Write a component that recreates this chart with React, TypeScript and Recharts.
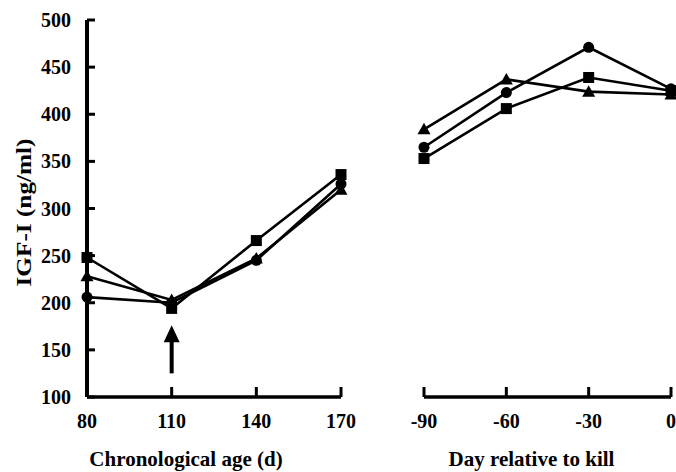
import React from 'react';
import { LineChart, Line, XAxis, YAxis, ReferenceDot } from 'recharts';

// chronological age panel
const ageDays = [80, 110, 140, 170];
const ageCircle = [206, 200, 245, 326];
const ageSquare = [248, 194, 266, 336];
const ageTriangle = [228, 203, 247, 320];

// days relative to kill panel
const killDays = [-90, -60, -30, 0];
const killCircle = [365, 423, 471, 427];
const killSquare = [353, 406, 439, 425];
const killTriangle = [384, 437, 424, 421];

const yTicks = [100, 150, 200, 250, 300, 350, 400, 450, 500];
const ageTicks = [80, 110, 140, 170];
const killTicks = [-90, -60, -30, 0];

// arrow under day 110 (tip value)
const arrowDay = 110;
const arrowTip = 176;

const FONT = '"Liberation Serif", "Times New Roman", serif';
const INK = '#000';

const ageData = ageDays.map((d, i) => ({ d, circle: ageCircle[i], square: ageSquare[i], triangle: ageTriangle[i] }));
const killData = killDays.map((d, i) => ({ d, circle: killCircle[i], square: killSquare[i], triangle: killTriangle[i] }));

const tickStyle = { fill: INK, fontSize: 20, fontWeight: 700, fontFamily: FONT };

function circleDot(p: any) {
    return <circle key={p.key} cx={p.cx} cy={p.cy} r={5.5} fill={INK} />;
}
function squareDot(p: any) {
    return <rect key={p.key} x={p.cx - 5.5} y={p.cy - 5.5} width={11} height={11} fill={INK} />;
}
function triangleDot(p: any) {
    return <path key={p.key} d={`M${p.cx},${p.cy - 6.5}L${p.cx + 6.5},${p.cy + 5}L${p.cx - 6.5},${p.cy + 5}Z`} fill={INK} />;
}

function Arrow(p: any) {
    const { cx, cy } = p;
    return (
        <g>
            <path d={`M${cx},${cy}L${cx + 8},${cy + 17}L${cx - 8},${cy + 17}Z`} fill={INK} />
            <rect x={cx - 2} y={cy + 15} width={4} height={33} fill={INK} />
        </g>
    );
}

function XTitle({ viewBox, value, shift }: any) {
    const cx = viewBox.x + viewBox.width / 2 + shift;
    return (
        <text x={cx} y={466} textAnchor="middle" fill={INK} fontSize={21} fontWeight={700} fontFamily={FONT}>
            {value}
        </text>
    );
}

function YTitle({ viewBox }: any) {
    const cx = viewBox.x + 23;
    const cy = viewBox.y + viewBox.height / 2 + 4;
    return (
        <text x={cx} y={cy} transform={`rotate(-90, ${cx}, ${cy})`} textAnchor="middle" dominantBaseline="central"
            fill={INK} fontSize={22} fontWeight={700} fontFamily={FONT} textLength={148} lengthAdjust="spacingAndGlyphs">
            IGF-I (ng/ml)
        </text>
    );
}

export default function App() {
    const lineProps = { stroke: INK, strokeWidth: 2.6, isAnimationActive: false };
    return (
        <div style={{ position: 'absolute', left: 0, top: 0, width: 676, height: 472, background: '#fff' }}>
            <div style={{ position: 'absolute', left: 0, top: 0 }}>
                <LineChart width={360} height={472} data={ageData} margin={{ top: 20, right: 19, bottom: 0, left: 0 }}>
                    <XAxis dataKey="d" type="number" domain={[80, 170]} ticks={ageTicks} height={75}
                        axisLine={{ stroke: INK, strokeWidth: 3.5 }} tickLine={{ stroke: INK, strokeWidth: 3 }}
                        tickSize={-10} tickMargin={27} tick={tickStyle}
                        label={<XTitle value="Chronological age (d)" shift={-28} />} />
                    <YAxis type="number" domain={[100, 500]} ticks={yTicks} width={87}
                        axisLine={{ stroke: INK, strokeWidth: 4 }} tickLine={{ stroke: INK, strokeWidth: 3 }}
                        tickSize={-8} tickMargin={24} tick={tickStyle}
                        label={<YTitle />} />
                    <Line dataKey="circle" {...lineProps} dot={circleDot} />
                    <Line dataKey="triangle" {...lineProps} dot={triangleDot} />
                    <Line dataKey="square" {...lineProps} dot={squareDot} />
                    <ReferenceDot x={arrowDay} y={arrowTip} shape={Arrow} />
                </LineChart>
            </div>
            <div style={{ position: 'absolute', left: 380, top: 0 }}>
                <LineChart width={296} height={472} data={killData} margin={{ top: 20, right: 5, bottom: 0, left: 44 }}>
                    <XAxis dataKey="d" type="number" domain={[-90, 0]} ticks={killTicks} height={75}
                        axisLine={{ stroke: INK, strokeWidth: 3.5 }} tickLine={{ stroke: INK, strokeWidth: 3 }}
                        tickSize={-10} tickMargin={27} tick={tickStyle}
                        label={<XTitle value="Day relative to kill" shift={-16} />} />
                    <YAxis type="number" domain={[100, 500]} hide />
                    <Line dataKey="circle" {...lineProps} dot={circleDot} />
                    <Line dataKey="triangle" {...lineProps} dot={triangleDot} />
                    <Line dataKey="square" {...lineProps} dot={squareDot} />
                </LineChart>
            </div>
        </div>
    );
}
